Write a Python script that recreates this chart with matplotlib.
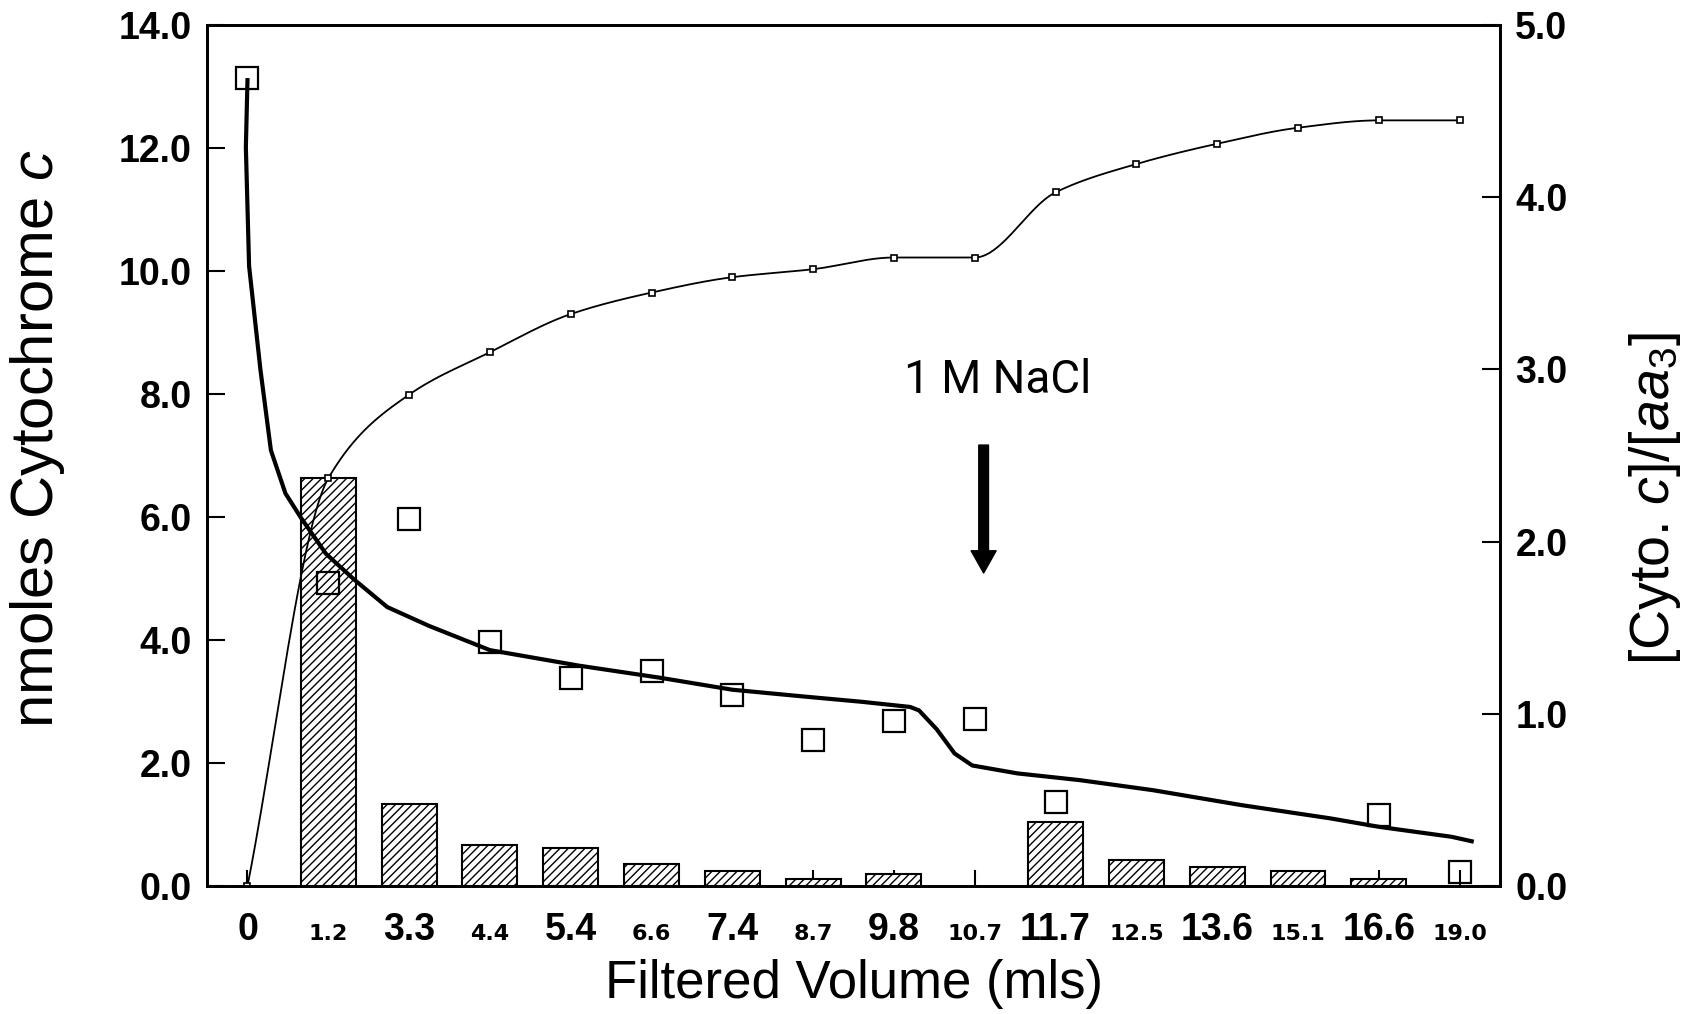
import numpy as np
import matplotlib.pyplot as plt

plt.rcParams['font.family'] = ['Liberation Sans', 'DejaVu Sans']
plt.rcParams['mathtext.fontset'] = 'custom'
plt.rcParams['mathtext.rm'] = 'Liberation Sans:weight=normal'
plt.rcParams['mathtext.it'] = 'Liberation Sans:style=italic:weight=normal'
plt.rcParams['hatch.linewidth'] = 1.0

# fractions collected (mls filtered)
volume_labels = ['0', '1.2', '3.3', '4.4', '5.4', '6.6', '7.4', '8.7', '9.8',
                 '10.7', '11.7', '12.5', '13.6', '15.1', '16.6', '19.0']
# cytochrome c per fraction (nmoles, bars)
fraction_cyt_c = [0, 6.63, 1.34, 0.67, 0.62, 0.36, 0.24, 0.11, 0.19,
                  0, 1.04, 0.43, 0.31, 0.25, 0.11, 0]
# cumulative cytochrome c (nmoles, small squares)
cumulative_cyt_c = [0, 6.63, 7.99, 8.68, 9.30, 9.65, 9.90, 10.03, 10.22,
                    10.22, 11.28, 11.74, 12.07, 12.33, 12.45, 12.45]
# [cyt c]/[aa3] ratio of the retained membranes (large squares)
ratio = [4.69, 1.76, 2.13, 1.42, 1.21, 1.25, 1.11, 0.85, 0.96,
         0.97, 0.49, np.nan, np.nan, np.nan, 0.41, 0.08]
# hand drawn trend through the ratio
trend_x = [0.0, -0.02, 0.02, 0.09, 0.16, 0.29, 0.47, 0.66, 0.97, 1.32, 1.73,
           2.25, 3.0, 4.1, 5.1, 6.0, 6.9, 7.6, 8.2, 8.31, 8.53, 8.75, 8.97,
           9.53, 10.3, 11.2, 12.3, 13.4, 14.0, 14.9, 15.15]
trend_ratio = [4.68, 4.29, 3.6, 3.3, 3.0, 2.53, 2.28, 2.14, 1.93, 1.78, 1.62,
               1.51, 1.37, 1.28, 1.21, 1.14, 1.10, 1.07, 1.04, 1.02, 0.91,
               0.77, 0.70, 0.654, 0.615, 0.557, 0.47, 0.393, 0.344, 0.286, 0.26]


def pchip(x, y, xs):
    x = np.asarray(x, float)
    y = np.asarray(y, float)
    h = np.diff(x)
    d = np.diff(y) / h
    m = np.zeros_like(y)
    for k in range(1, len(y) - 1):
        if d[k - 1] * d[k] > 0:
            w1 = 2 * h[k] + h[k - 1]
            w2 = h[k] + 2 * h[k - 1]
            m[k] = (w1 + w2) / (w1 / d[k - 1] + w2 / d[k])
    m[0] = d[0]
    m[-1] = d[-1]
    i = np.clip(np.searchsorted(x, xs) - 1, 0, len(h) - 1)
    t = (xs - x[i]) / h[i]
    h00 = 2 * t**3 - 3 * t**2 + 1
    h10 = t**3 - 2 * t**2 + t
    h01 = -2 * t**3 + 3 * t**2
    h11 = t**3 - t**2
    return h00 * y[i] + h10 * h[i] * m[i] + h01 * y[i + 1] + h11 * h[i] * m[i + 1]


pos = np.arange(len(volume_labels))
frac = np.array(fraction_cyt_c)
has_bar = frac > 0

fig = plt.figure(figsize=(16.89, 10.14), dpi=100)
ax = fig.add_axes([0.1226, 0.1262, 0.7655, 0.8491])
ax2 = ax.twinx()

ax.bar(pos[has_bar], frac[has_bar], width=0.68, facecolor='white',
       edgecolor='black', hatch='////', linewidth=1.5, zorder=2)

xs = np.linspace(0, pos[-1], 600)
ax.plot(xs, pchip(pos, cumulative_cyt_c, xs), color='black', lw=1.3, zorder=3)
ax.plot(pos, cumulative_cyt_c, 's', ms=4, mfc='white', mec='black', mew=1.2, zorder=4)

ax2.plot(trend_x, trend_ratio, color='black', lw=3, solid_joinstyle='round')
ax2.plot(pos, ratio, 's', ms=16, mfc='none', mec='black', mew=1.6)

ax.set_xlim(-0.5, 15.5)
ax.set_ylim(0, 14)
ax2.set_ylim(0, 5)

ax.set_xticks(pos)
ax.set_xticklabels(volume_labels)
ax.set_xticks(pos[::2], minor=True)
ax.tick_params(axis='x', which='major', direction='in', length=11.5, width=1.5, pad=39)
ax.tick_params(axis='x', which='minor', direction='out', length=11.5, width=1.5)
for i, lab in enumerate(ax.get_xticklabels()):
    lab.set_va('baseline')
    lab.set_fontweight('bold')
    if i % 2 == 0:
        lab.set_fontsize(27)
    else:
        lab.set_fontsize(16)
        lab.set_family(['DejaVu Sans'])

left_ticks = np.arange(0, 14.1, 2)
right_ticks = np.arange(0, 5.1, 1)
ax.set_yticks(left_ticks)
ax.set_yticklabels([f'{v:.1f}' for v in left_ticks], fontsize=27, fontweight='bold')
ax.tick_params(axis='y', direction='in', length=13, width=1.5, pad=11)
ax2.set_yticks(right_ticks)
ax2.set_yticklabels([f'{v:.1f}' for v in right_ticks], fontsize=27, fontweight='bold')
ax2.tick_params(axis='y', direction='in', length=13, width=1.5, pad=11)

for a in (ax, ax2):
    for s in a.spines.values():
        s.set_linewidth(2)

ax.set_xlabel('Filtered Volume (mls)', fontsize=38)
ax.xaxis.set_label_coords(0.5, -0.085)
ax.set_ylabel('nmoles Cytochrome $c$', fontsize=43)
ax.yaxis.set_label_coords(-0.108, 0.52)
ax2.set_ylabel('[Cyto. $c$]/[$aa_3$]', fontsize=40, rotation=90)
ax2.yaxis.set_label_coords(1.098, 0.45)

ax.annotate('', xy=(9.11, 5.09), xytext=(9.11, 7.17),
            arrowprops=dict(facecolor='black', edgecolor='black', width=7,
                            headwidth=18, headlength=16, shrink=0))
ax.text(9.28, 8.23, '1 M NaCl', ha='center', va='center', fontsize=33,
        color='black', family=['Roboto', 'Liberation Sans'], fontweight='normal')

fig.savefig('out.png', dpi=100)
